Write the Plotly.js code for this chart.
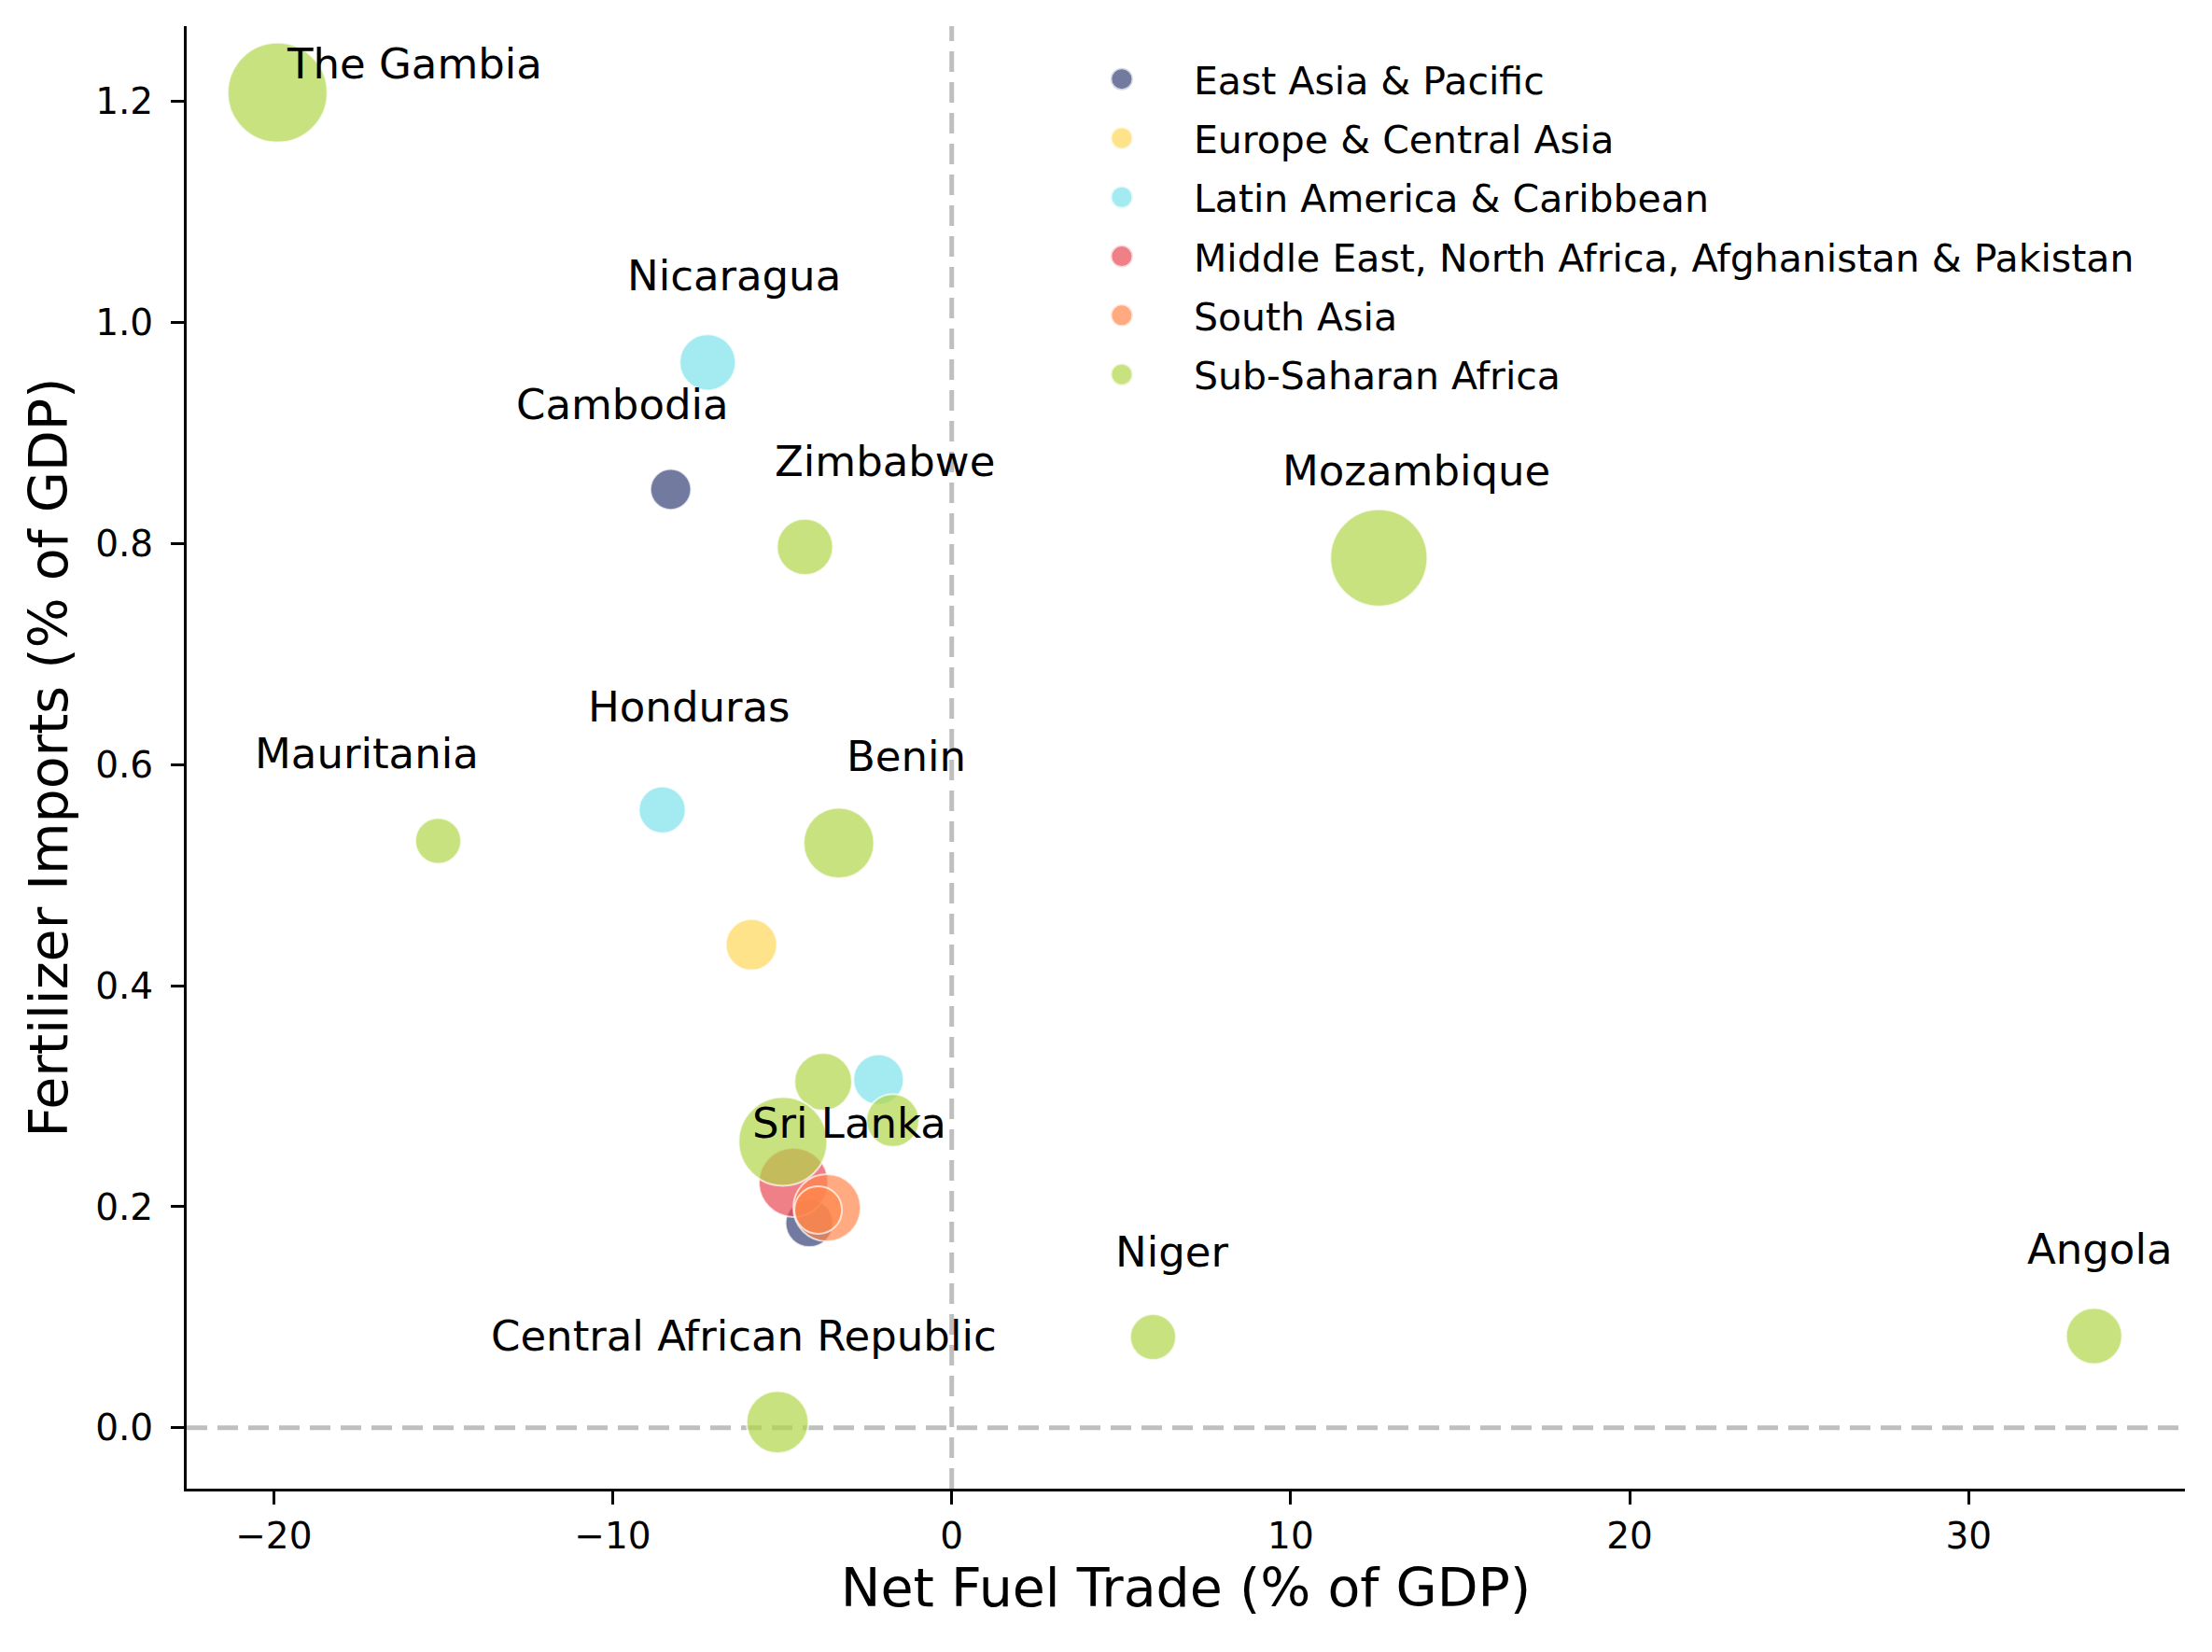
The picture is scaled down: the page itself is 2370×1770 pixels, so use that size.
<!DOCTYPE html>
<html>
<head>
<meta charset="utf-8">
<script src="https://cdn.plot.ly/plotly-3.0.1.min.js"></script>
<style>
  html, body { margin: 0; padding: 0; background: #fff; }
  #chart { width: 2370px; height: 1770px; }
</style>
</head>
<body>
<div id="chart"></div>
<script>
// regions, in the order they are drawn and listed
var regions = [
    "East Asia & Pacific",
    "Europe & Central Asia",
    "Latin America & Caribbean",
    "Middle East, North Africa, Afghanistan & Pakistan",
    "South Asia",
    "Sub-Saharan Africa"
];
var regionColors = ["55,65,119", "254,215,88", "124,226,234", "234,74,84", "255,134,74", "176,214,74"];

// one entry per country (label is '' where the chart shows none)
var labels = [
    "The Gambia", "Nicaragua", "Cambodia", "Zimbabwe", "Mozambique",
    "Honduras", "Mauritania", "Benin", "", "",
    "", "", "", "", "",
    "Sri Lanka", "", "Central African Republic", "Niger", "Angola"
];
var pointRegion = [
    5, 2, 0, 5, 5,
    2, 5, 5, 1, 5,
    2, 5, 5, 3, 0,
    4, 4, 5, 5, 5
];
var netFuelTrade = [
    -19.89, -7.20, -8.29, -4.33, 12.60,
    -8.54, -15.15, -3.33, -5.91, -3.79,
    -2.16, -1.74, -4.98, -4.67, -4.20,
    -3.68, -3.94, -5.14, 5.94, 33.70
];
var fertilizerImports = [
    1.208, 0.964, 0.849, 0.797, 0.787,
    0.559, 0.531, 0.529, 0.437, 0.313,
    0.315, 0.278, 0.259, 0.222, 0.185,
    0.199, 0.197, 0.005, 0.082, 0.083
];
// bubble weight (third variable), drawn as area
var bubbleValue = [
    114, 36, 19, 36, 108,
    25, 24, 57, 30, 38,
    29, 32, 90, 55, 26,
    52, 26, 44, 24, 36
];

// label offsets in px (right, up) as placed in the chart
var labelShift = {
    "The Gambia": [147, 31], "Nicaragua": [28, 93], "Cambodia": [-52, 91],
    "Zimbabwe": [86, 91], "Mozambique": [40, 93], "Honduras": [29, 110],
    "Mauritania": [-76, 93], "Benin": [72, 93], "Sri Lanka": [24, 91],
    "Central African Republic": [-36, 92], "Niger": [20, 91], "Angola": [6, 93]
};

var FONT = "DejaVu Sans, Verdana, sans-serif";
var ALPHA = 0.7;

function padRange(arr) {
    var lo = Math.min.apply(null, arr), hi = Math.max.apply(null, arr);
    var m = (hi - lo) * 0.05;
    return [lo - m, hi + m];
}

var traces = [];
regions.forEach(function (reg, r) {
    var xs = [], ys = [], ss = [], tx = [];
    for (var i = 0; i < pointRegion.length; i++) {
        if (pointRegion[i] !== r) continue;
        xs.push(netFuelTrade[i]);
        ys.push(fertilizerImports[i]);
        ss.push(10 * Math.sqrt(bubbleValue[i]));
        tx.push(labels[i]);
    }
    traces.push({
        type: "scatter",
        mode: "markers",
        name: reg,
        legendgroup: reg,
        x: xs,
        y: ys,
        text: tx,
        marker: {
            color: "rgba(" + regionColors[r] + "," + ALPHA + ")",
            opacity: 1,   // bubble traces default to 0.7 otherwise
            size: ss,
            sizemode: "diameter",
            line: { color: "rgba(255,255,255," + ALPHA + ")", width: 2 }
        }
    });
});

var annotations = [];
labels.forEach(function (lab, i) {
    if (!lab) return;
    annotations.push({
        x: netFuelTrade[i],
        y: fertilizerImports[i],
        text: lab,
        showarrow: false,
        xanchor: "center",
        yanchor: "middle",
        xshift: labelShift[lab][0],
        yshift: labelShift[lab][1],
        font: { family: FONT, size: 45, color: "#000" }
    });
});

var dashLine = { color: "#bfbfbf", width: 5, dash: "22px,11px" };

var layout = {
    width: 2370,
    height: 1770,
    margin: { l: 200, r: 29, t: 28, b: 175 },
    paper_bgcolor: "#ffffff",
    plot_bgcolor: "#ffffff",
    font: { family: FONT, color: "#000" },
    showlegend: true,
    legend: {
        x: 0.432,
        xanchor: "left",
        y: 0.985,
        yanchor: "top",
        font: { family: FONT, size: 41, color: "#000" },
        itemwidth: 144,
        tracegroupgap: 7,
        bgcolor: "rgba(0,0,0,0)",
        borderwidth: 0
    },
    xaxis: {
        range: padRange(netFuelTrade),
        tickvals: [-20, -10, 0, 10, 20, 30],
        showgrid: false,
        zeroline: false,
        showline: true,
        linecolor: "#000",
        linewidth: 3,
        ticks: "outside",
        ticklen: 14,
        tickwidth: 3,
        tickcolor: "#000",
        ticklabelstandoff: 0,
        tickfont: { family: FONT, size: 39, color: "#000" },
        title: { text: "Net Fuel Trade (% of GDP)", standoff: 12, font: { family: FONT, size: 57, color: "#000" } },
        automargin: true
    },
    yaxis: {
        range: padRange(fertilizerImports),
        tickvals: [0, 0.2, 0.4, 0.6, 0.8, 1.0, 1.2],
        tickformat: ".1f",
        showgrid: false,
        zeroline: false,
        showline: true,
        linecolor: "#000",
        linewidth: 3,
        ticks: "outside",
        ticklen: 14,
        tickwidth: 3,
        tickcolor: "#000",
        ticklabelstandoff: 11,
        tickfont: { family: FONT, size: 39, color: "#000" },
        title: { text: "Fertilizer Imports (% of GDP)", standoff: 12, font: { family: FONT, size: 57, color: "#000" } },
        automargin: true
    },
    shapes: [
        { type: "line", layer: "below", xref: "x", yref: "paper", x0: 0, x1: 0, y0: 0, y1: 1, line: dashLine },
        { type: "line", layer: "below", xref: "paper", yref: "y", x0: 0, x1: 1, y0: 0, y1: 0, line: dashLine }
    ],
    annotations: annotations
};

Plotly.newPlot("chart", traces, layout, { displayModeBar: false, staticPlot: true }).then(function () {
    // legend symbols are capped at 16px by plotly; the chart shows them at ~24px
    var pts = document.querySelectorAll("#chart .legendpoints path.scatterpts");
    pts.forEach(function (p) {
        var t = p.getAttribute("transform") || "";
        p.setAttribute("transform", t + " scale(1.5)");
    });
});
</script>
</body>
</html>
